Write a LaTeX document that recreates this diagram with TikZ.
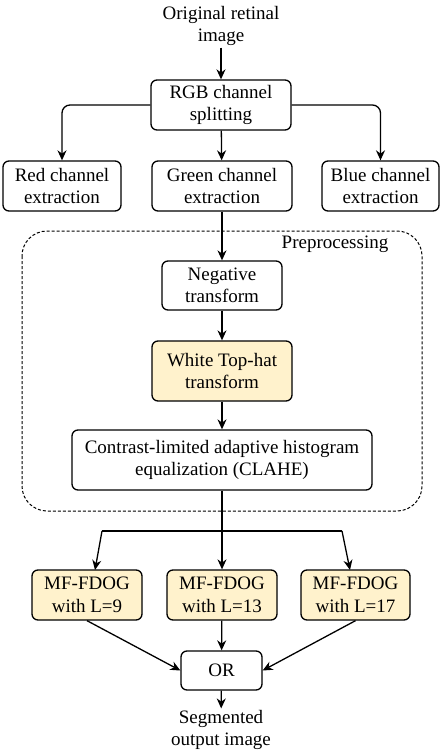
\documentclass[tikz,border=0pt]{standalone}
\usepackage{fontspec}
\setmainfont{Liberation Serif}
\usetikzlibrary{arrows.meta}
\definecolor{hatfill}{HTML}{FFF2CC}
\tikzset{
    box/.style={draw=black, fill=white, rounded corners=6pt, align=center, inner sep=0pt},
    yellowbox/.style={box, fill=hatfill},
    label/.style={align=center, inner sep=1pt},
}
\begin{document}
\begin{tikzpicture}[x=1pt, y=-1pt, line width=1.3pt, >={Stealth[length=10pt,width=9pt]},
    font=\fontsize{19}{22.5}\selectfont]
    \useasboundingbox (0,0) rectangle (442,752);

    \draw[line width=1pt, dash pattern=on 3pt off 2pt, rounded corners=25pt] (22,231) rectangle (422,511);
    \node[label] (pre) at (335,244) {Preprocessing};

    \node[label] (src) at (221,26) {Original retinal\\image};
    \node[box, minimum width=140, minimum height=50] (rgb) at (221,105) {RGB channel\\splitting};
    \node[box, minimum width=118, minimum height=50] (red) at (62,186) {Red channel\\extraction};
    \node[box, minimum width=140, minimum height=50] (green) at (222,186) {Green channel\\extraction};
    \node[box, minimum width=117, minimum height=50] (blue) at (380.5,186) {Blue channel\\extraction};
    \node[box, minimum width=120, minimum height=49] (neg) at (222,285.5) {Negative\\transform};
    \node[yellowbox, minimum width=140, minimum height=60] (hat) at (222,371) {White Top-hat\\transform};
    \node[box, minimum width=300, minimum height=60] (clahe) at (222,460) {Contrast-limited adaptive histogram\\equalization (CLAHE)};
    \node[yellowbox, minimum width=110, minimum height=50] (mf9) at (87,595) {MF-FDOG\\with L=9};
    \node[yellowbox, minimum width=110, minimum height=50] (mf13) at (222,595) {MF-FDOG\\with L=13};
    \node[yellowbox, minimum width=109, minimum height=50] (mf17) at (355.5,595) {MF-FDOG\\with L=17};
    \node[box, minimum width=81, minimum height=39] (or) at (221.5,670.5) {OR};
    \node[label] (out) at (221,730) {Segmented\\output image};

    \coordinate (sl) at (102,531);
    \coordinate (sr) at (342,531);
    \coordinate (t9) at (95,570);
    \coordinate (t17) at (350,570);

    \path [->](src) edge (rgb);
    \draw [->, rounded corners=8pt](rgb.west) -| (red.north);
    \draw [->, rounded corners=8pt](rgb.east) -| (blue.north);
    \path [->](rgb) edge (green);
    \path [->](green) edge (neg);
    \path [->](neg) edge (hat);
    \path [->](hat) edge (clahe);
    \path [->](clahe) edge (mf13);

    \draw (sl) -- (sr);
    \path [->](sl) edge (t9);
    \path [->](sr) edge (t17);

    \path [->](mf9.south) edge (or.west);
    \path [->](mf13) edge (or);
    \path [->](mf17.south) edge (or.east);
    \path [->](or) edge (out);

\end{tikzpicture}
\end{document}
